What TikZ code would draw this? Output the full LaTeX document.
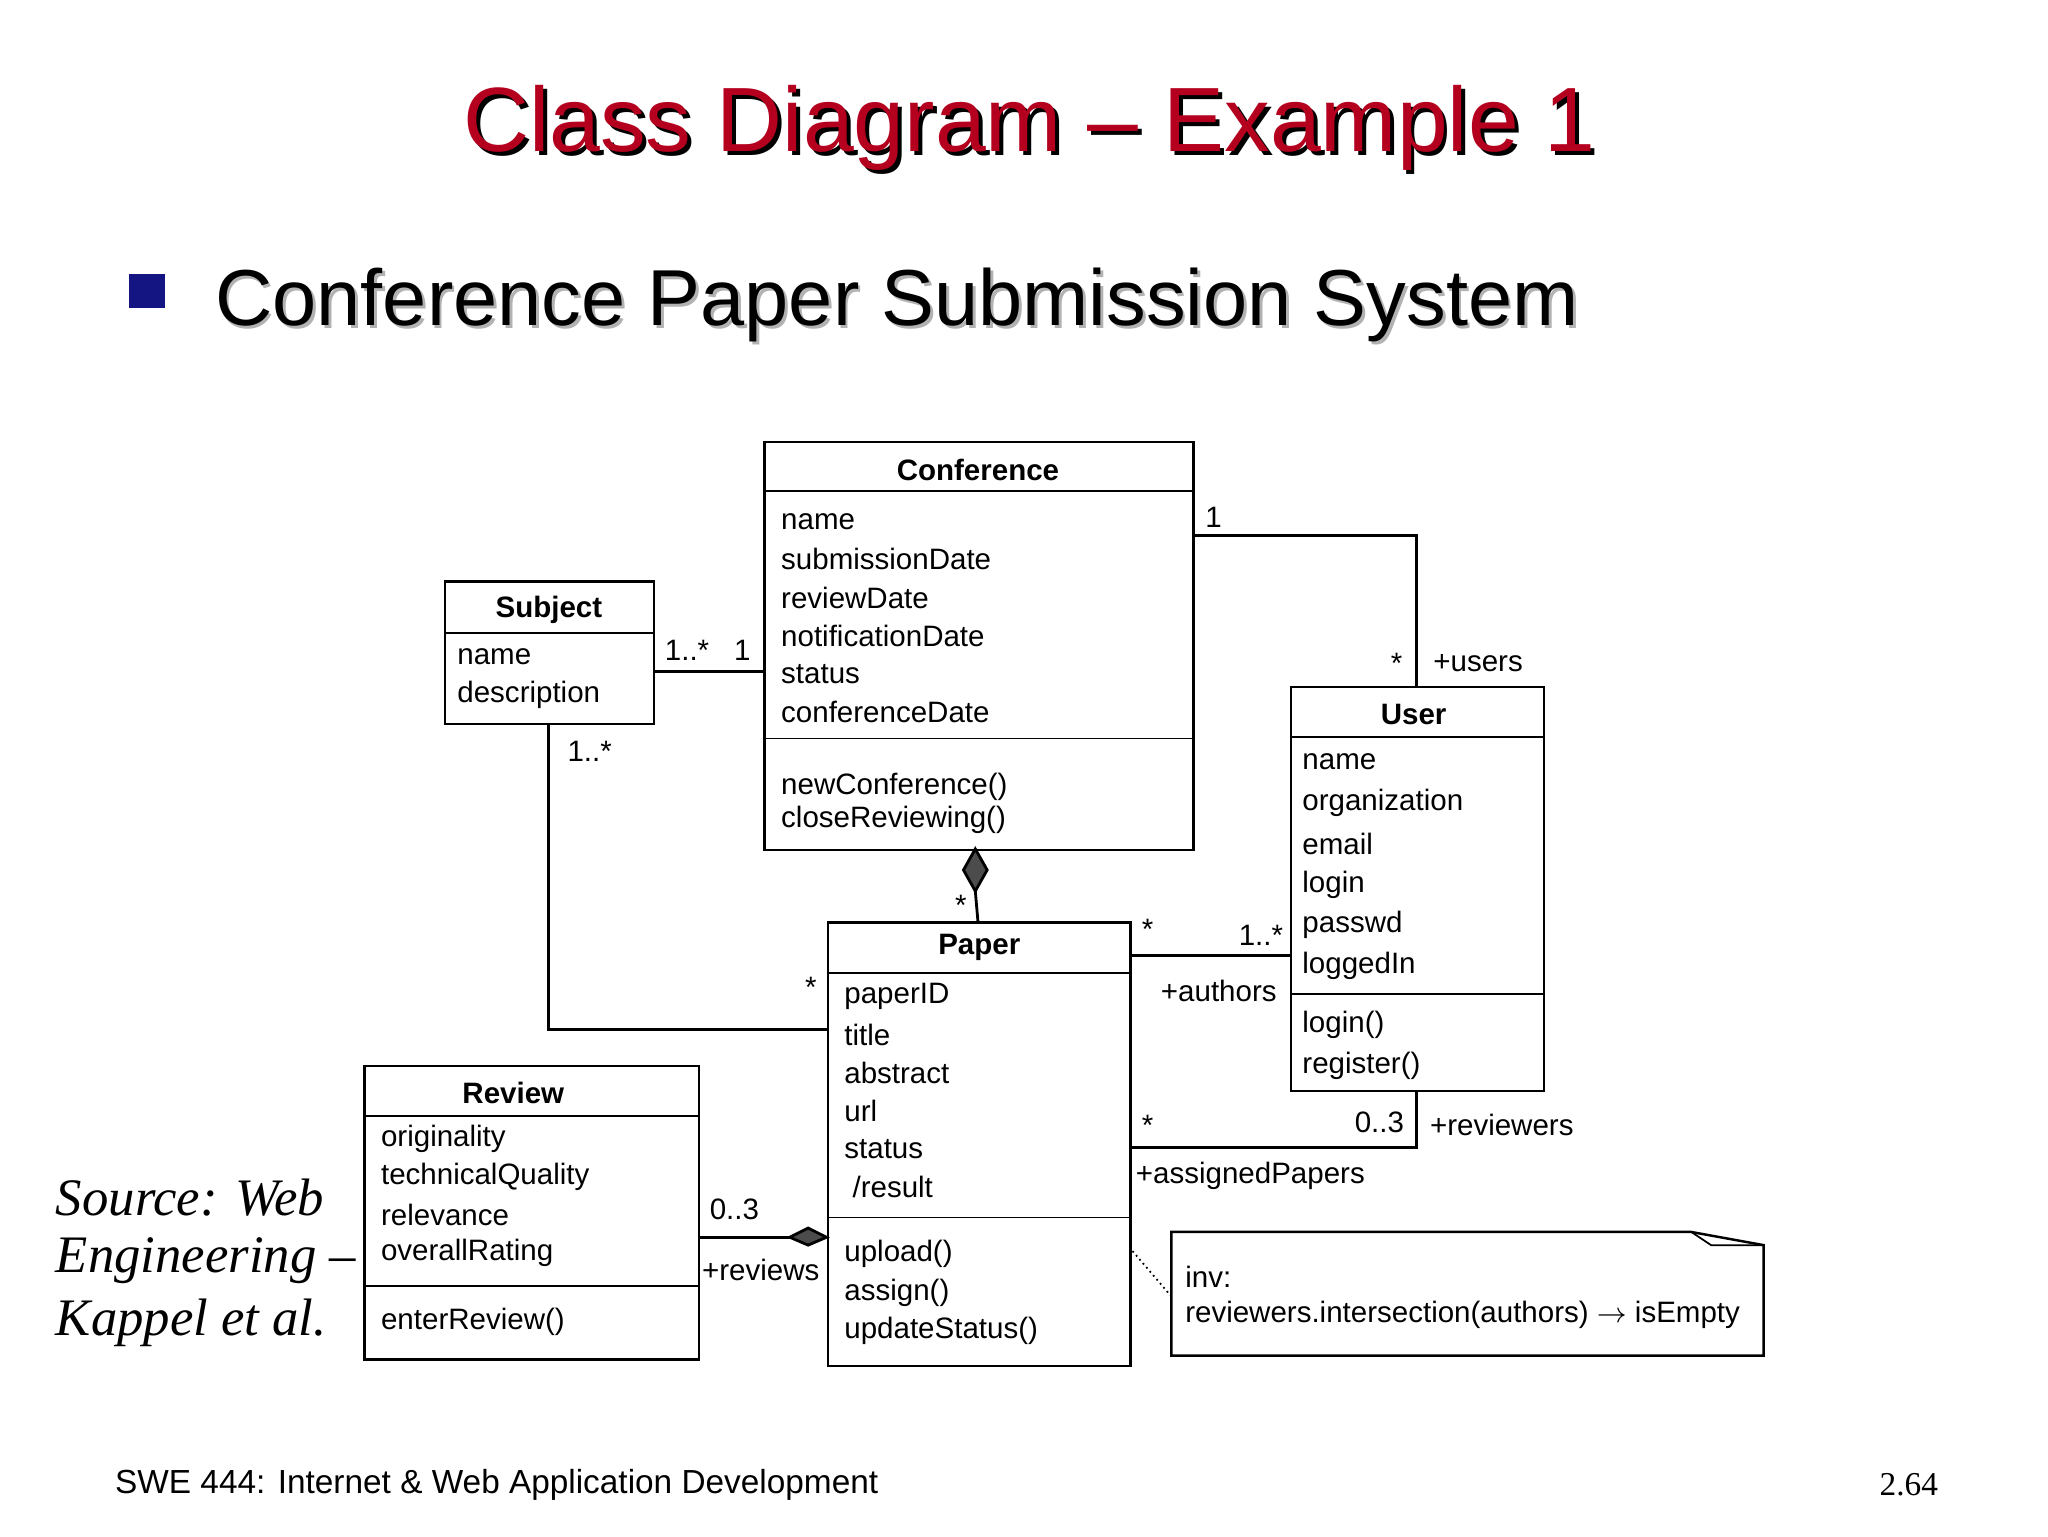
\documentclass[tikz,border=0pt]{standalone}
\usepackage{fontspec}
\setmainfont{Liberation Serif}
\setsansfont{Liberation Sans}
\usetikzlibrary{shapes.geometric}
\def\pxu{0.013162cm}
\definecolor{titlered}{RGB}{180,0,30}
\definecolor{navy}{RGB}{20,20,130}
\begin{document}
\begin{tikzpicture}[x=0.013162cm,y=-0.013162cm,
  box/.style={draw,line width=0.7pt,anchor=north west,inner sep=0pt},
  t/.style={font=\sffamily\fontsize{8.4}{10}\selectfont,anchor=west,inner sep=0pt},
  hd/.style={font=\sffamily\bfseries\fontsize{8.4}{10}\selectfont,inner sep=0pt},
  lab/.style={font=\sffamily\fontsize{8.4}{10}\selectfont,inner sep=0pt},
  ln/.style={line width=0.8pt},
  sep/.style={line width=0.5pt}]
\useasboundingbox (0,0) rectangle (1556,1167);
% title
\node[font=\sffamily\fontsize{26}{30}\selectfont,text=black] at (785,100) {Class Diagram -- Example 1};
\node (title) [font=\sffamily\fontsize{26}{30}\selectfont,text=titlered] at (782,97) {Class Diagram -- Example 1};
\fill[navy] (98,208) rectangle (125,234);
\node[font=\sffamily\fontsize{22.6}{26}\selectfont,text=gray!60,anchor=west,inner sep=0pt] at (165,234) {Conference Paper Submission System};
\node (sub) [font=\sffamily\fontsize{22.6}{26}\selectfont,anchor=west,inner sep=0pt] at (163,232) {Conference Paper Submission System};
% Conference
\node[box,minimum width=326*\pxu,minimum height=310*\pxu] (conf) at (580,335) {};
\node[hd] at (743,357) {Conference};
\draw[sep] (580,373) -- (906,373); \draw[sep] (580,561) -- (906,561);
\foreach \s [count=\i from 0] in {name,submissionDate,reviewDate,notificationDate,status,conferenceDate}
  \node[t] at (593,396+29*\i) {\s};
\node[t] at (593,598) {newConference()};
\node[t] at (593,623) {closeReviewing()};
% Subject
\node[box,minimum width=159*\pxu,minimum height=108*\pxu] (subj) at (337,441) {};
\node[hd] at (417,463) {Subject};
\draw[sep] (337,481) -- (496,481);
\node[t] at (347,499) {name}; \node[t] at (347,528) {description};
% User
\node[box,minimum width=192*\pxu,minimum height=307*\pxu] (user) at (980,521) {};
\node[hd] at (1074,543) {User};
\draw[sep] (980,560) -- (1172,560); \draw[sep] (980,755) -- (1172,755);
\foreach \s [count=\i from 0] in {name,organization,email,login,passwd,loggedIn}
  \node[t] at (989,579+31*\i) {\s};
\node[t] at (989,779) {login()}; \node[t] at (989,810) {register()};
% Paper
\node[box,minimum width=230*\pxu,minimum height=337*\pxu] (paper) at (628,700) {};
\node[hd] at (744,720) {Paper};
\draw[sep] (628,739) -- (858,739); \draw[sep] (628,925) -- (858,925);
\foreach \s [count=\i from 0] in {paperID,title,abstract,url,status,\ /result}
  \node[t] at (641,757+29*\i) {\s};
\node[t] at (641,953) {upload()}; \node[t] at (641,982) {assign()}; \node[t] at (641,1011) {updateStatus()};
% Review
\node[box,minimum width=254*\pxu,minimum height=223*\pxu] (rev) at (276,809) {};
\node[hd] at (390,830) {Review};
\draw[sep] (276,848) -- (530,848); \draw[sep] (276,977) -- (530,977);
\foreach \s [count=\i from 0] in {originality,technicalQuality,relevance,overallRating}
  \node[t] at (289,865+29*\i) {\s};
\node[t] at (289,1004) {enterReview()};
% Note
\draw[line width=0.7pt] (890,936) -- (1285,936) -- (1340,946) -- (1340,1030) -- (890,1030) -- cycle;
\draw[line width=0.5pt] (1285,936) -- (1300,946) -- (1340,946);
\node (note) [inner sep=0pt] at (1115,983) {};
\node[t] at (900,970) {inv:};
\node[t] at (900,999) {reviewers.intersection(authors) $\rightarrow$ isEmpty};
\draw[densely dotted,line width=0.5pt] (note.center -| 890,0) ++(0,2) -- (860,950);
% connectors
\draw[ln] (subj.east |- 0,510) -- (conf.west |- 0,510);
\node[lab] at (522,494) {1..*}; \node[lab] at (564,494) {1};
\draw[ln] (conf.east |- 0,407) -- (1076,407) -- (user.north -| 1076,0);
\node[lab] at (922,393) {1}; \node[lab] at (1061,504) {*}; \node[lab] at (1123,504) {+users};
\draw[ln] (subj.south -| 417,0) -- (417,782) -- (paper.west |- 0,782);
\node[lab] at (448,571) {1..*}; \node[lab] at (616,750) {*};
\draw[ln,fill=black!70] (741,645) -- (750,661) -- (741,677) -- (732,661) -- cycle;
\draw[ln] (741,677) -- (743,700);
\node[lab] at (730,688) {*};
\draw[ln] (paper.east |- 0,726) -- (user.west |- 0,726);
\node[lab] at (872,706) {*}; \node[lab] at (958,711) {1..*}; \node[lab] at (926,753) {+authors};
\draw[ln] (paper.east |- 0,872) -- (1076,872) -- (user.south -| 1076,0);
\node[lab] at (872,855) {*}; \node[lab] at (1048,853) {0..3}; \node[lab] at (1141,855) {+reviewers};
\node[lab] at (950,893) {+assignedPapers};
\draw[ln] (rev.east |- 0,940) -- (600,940);
\draw[ln,fill=black!70] (628,940) -- (614,946) -- (600,940) -- (614,933) -- cycle;
\node[lab] at (558,919) {0..3}; \node[lab] at (578,965) {+reviews};
% source
\node[font=\itshape\fontsize{15}{18}\selectfont,anchor=west,inner sep=0pt] at (42,910) {Source: Web};
\node[font=\itshape\fontsize{15}{18}\selectfont,anchor=west,inner sep=0pt] at (42,958) {Engineering --};
\node[font=\itshape\fontsize{15}{18}\selectfont,anchor=west,inner sep=0pt] at (42,1005) {Kappel et al.};
% footer
\node[font=\sffamily\fontsize{9.5}{11}\selectfont,anchor=west,inner sep=0pt] at (87,1128) {SWE 444: Internet \& Web Application Development};
\node[font=\fontsize{9.5}{11}\selectfont,anchor=east,inner sep=0pt] at (1473,1128) {2.64};
\end{tikzpicture}
\end{document}
